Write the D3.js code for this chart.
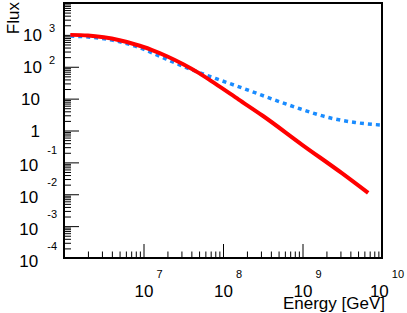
<!DOCTYPE html>
<meta charset="utf-8">
<html>
  <head>
    <script src="https://d3js.org/d3.v7.min.js"></script>
    <style>
    body { margin: 0; background: white; }
    text { font-family: "Liberation Sans", Arial, sans-serif; fill: black; }
    </style>
  </head>
  <body>
    <svg id="viz" width=407 height=313></svg>
    <script>
    // red (solid) curve, energy in GeV
    var redEnergy = [1.2e6, 2e6, 3.16e6, 5e6, 7.9e6, 1e7, 1.26e7, 2e7, 3.16e7, 5e7, 7.9e7, 1.58e8, 3.16e8, 1e9, 3.16e9, 6.7e9];
    var redFlux   = [1000, 958, 841, 678, 500, 416, 339, 210, 120, 63, 30, 9.3, 2.9, 0.35, 0.045, 0.011];

    // blue (dotted) curve
    var blueEnergy = [1.2e6, 2.3e6, 4.6e6, 1e7, 1.6e7, 2.8e7, 5e7, 9.2e7, 1.8e8, 2.9e8, 9.3e8, 2.2e9, 4.6e9, 1e10];
    var blueFlux   = [920, 830, 640, 355, 214, 117, 66, 38, 21, 13.5, 4.8, 2.5, 1.78, 1.48];

    // decade labels (powers of ten)
    var xTickExps = [7, 8, 9, 10];
    var yTickExps = [-4, -3, -2, -1, 0, 1, 2, 3];

    var padL = 64, padR = 382, padT = 3, padB = 258;

    var x = d3.scaleLog().domain([1e6, 1e10]).range([padL, padR]);
    var y = d3.scaleLog().domain([1e-4, 1e4]).range([padB, padT]);

    var svg = d3.select("#viz");

    function isDecade(v) {
        var l = Math.log10(v);
        return Math.abs(l - Math.round(l)) < 1e-6;
    }

    // y axis ticks, pointing into the frame
    var gy = svg.append("g")
        .attr("transform", "translate(" + padL + ",0)")
        .call(d3.axisRight(y).ticks(10).tickSizeOuter(0).tickFormat(""));
    gy.select(".domain").remove();
    gy.selectAll(".tick line")
        .attr("x2", function(d) { return isDecade(d) ? 15 : 7; })
        .attr("stroke", "black");

    // x axis ticks, pointing up
    var gx = svg.append("g")
        .attr("transform", "translate(0," + padB + ")")
        .call(d3.axisTop(x).ticks(10).tickSizeOuter(0).tickFormat(""));
    gx.select(".domain").remove();
    gx.selectAll(".tick line")
        .attr("y2", function(d) { return isDecade(d) ? -14 : -6.5; })
        .attr("stroke", "black");

    // frame
    svg.append("rect")
        .attr("x", padL).attr("y", padT)
        .attr("width", padR - padL).attr("height", padB - padT)
        .attr("fill", "none")
        .attr("stroke", "black")
        .attr("stroke-width", 2);

    // y tick labels
    yTickExps.forEach(function(e) {
        var ty = y(Math.pow(10, e));
        if (e == 0 || e == 1) {
            svg.append("text")
                .attr("x", 40).attr("y", ty + 6)
                .attr("text-anchor", "end")
                .style("font-size", "17px")
                .text(e == 0 ? "1" : "10");
            return;
        }
        var neg = e < 0;
        var t = svg.append("text")
            .attr("x", neg ? 57 : 55)
            .attr("y", ty + (neg ? 8.5 : 6))
            .attr("text-anchor", "end")
            .style("font-size", "17px");
        t.append("tspan").text("10");
        t.append("tspan")
            .attr("dx", neg ? 9 : 7)
            .attr("dy", neg ? -17 : -8.5)
            .style("font-size", "11px")
            .text(e);
    });

    // x tick labels
    xTickExps.forEach(function(e) {
        var t = svg.append("text")
            .attr("x", x(Math.pow(10, e)) + 5)
            .attr("y", 296.5)
            .attr("text-anchor", "middle")
            .style("font-size", "17px");
        t.append("tspan").text("10");
        t.append("tspan")
            .attr("dx", 3)
            .attr("dy", -19)
            .style("font-size", "11px")
            .text(e);
    });

    // axis titles
    svg.append("text")
        .attr("x", 385).attr("y", 309)
        .attr("text-anchor", "end")
        .style("font-size", "17px")
        .text("Energy [GeV]");

    svg.append("text")
        .attr("transform", "translate(19,2) rotate(-90)")
        .attr("text-anchor", "end")
        .style("font-size", "17px")
        .text("Flux");

    // curves
    var line = d3.line()
        .x(function(d) { return x(d[0]); })
        .y(function(d) { return y(d[1]); })
        .curve(d3.curveMonotoneX);

    var plot = svg.append("g");

    plot.append("path")
        .datum(blueEnergy.map(function(e, i) { return [e, blueFlux[i]]; }))
        .attr("d", line)
        .attr("fill", "none")
        .attr("stroke", "#1a8cff")
        .attr("stroke-width", 3.5)
        .attr("stroke-dasharray", "4,4");

    plot.append("path")
        .datum(redEnergy.map(function(e, i) { return [e, redFlux[i]]; }))
        .attr("d", line)
        .attr("fill", "none")
        .attr("stroke", "#ff0000")
        .attr("stroke-width", 4);
    </script>
  </body>
</html>
